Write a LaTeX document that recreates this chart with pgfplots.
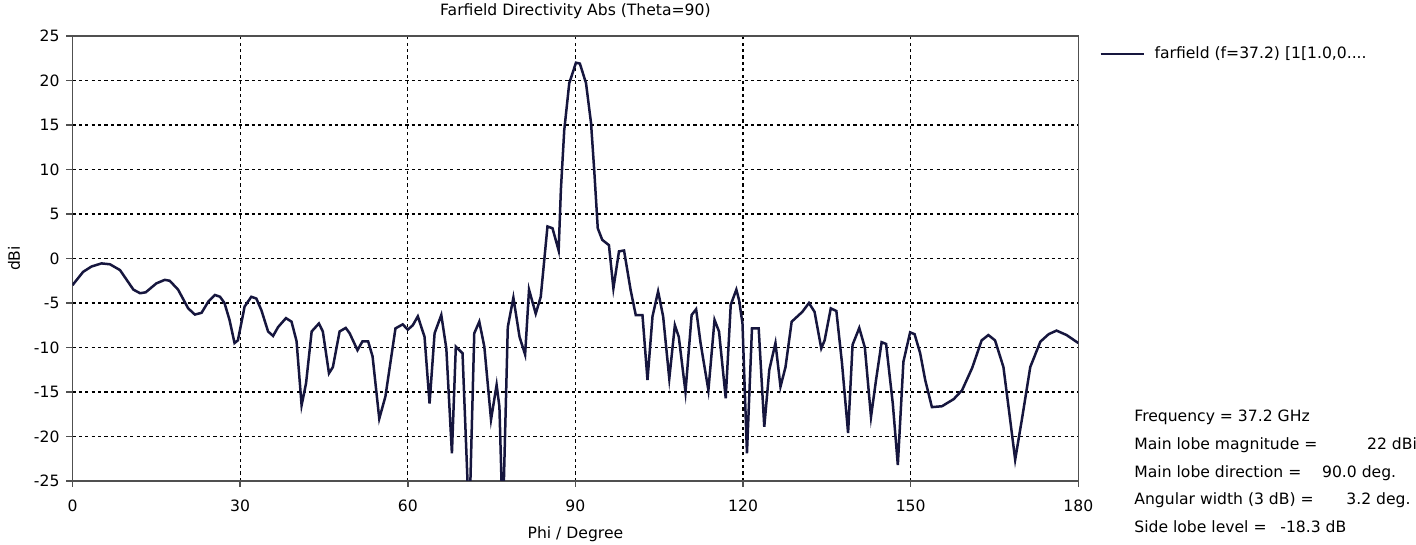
\documentclass[border=0pt]{standalone}
\usepackage{fontspec}
\setmainfont{DejaVu Sans}
\usepackage{pgfplots}
\pgfplotsset{compat=1.18}
\definecolor{curve}{HTML}{16163E}
\definecolor{axisgray}{HTML}{505050}
\begin{document}
\begin{tikzpicture}[font=\fontsize{7.8}{9}\selectfont]
\useasboundingbox (-36.25pt,-32pt) rectangle (671.75pt,240.5pt);
\begin{axis}[
  at={(0pt,0pt)}, anchor=south west,
  scale only axis, width=502.9pt, height=222.5pt,
  xmin=0, xmax=180, ymin=-25, ymax=25,
  xtick={0,30,...,180}, ytick={-25,-20,...,25},
  grid=major,
  major grid style={black, line width=0.6pt, dash pattern=on 1.6pt off 1.6pt},
  axis line style={axisgray, line width=0.8pt},
  tick style={axisgray, line width=0.8pt},
  tick align=outside, tick pos=left, major tick length=3pt,
  /pgf/number format/assume math mode=true,
  xticklabel style={yshift=-3pt},
  xlabel={Phi / Degree}, ylabel={dBi},
  title={Farfield Directivity Abs (Theta=90)},
  title style={at={(axis description cs:0.5,1.028)}, anchor=center, inner sep=0pt},
  x label style={at={(axis description cs:0.5,-0.119)}, anchor=center, inner sep=0pt},
  y label style={at={(axis description cs:-0.0582,0.5)}, anchor=center, inner sep=0pt},
  legend image code/.code={\draw[#1] (0pt,0pt) -- (21.85pt,0pt); \path (26.3pt,0pt);},
  legend style={at={(axis description cs:1.0206,0.9596)}, anchor=west, draw=none, fill=none,
    inner sep=0pt, nodes={inner sep=0pt}},
  legend cell align={left},
]
\addplot[curve, line width=1.25pt] coordinates {
(0,-3.0) (1.9,-1.5) (3.4,-0.9) (5.2,-0.55) (6.7,-0.65) (8.5,-1.3) (10.9,-3.5) (12.1,-3.9)
(13.1,-3.8) (15.0,-2.8) (16.5,-2.4) (17.4,-2.5) (18.9,-3.5) (20.7,-5.6) (21.9,-6.3) (23.1,-6.1)
(24.3,-4.85) (25.5,-4.1) (26.4,-4.3) (27.2,-5.0) (28.1,-6.9) (29.0,-9.5) (29.6,-9.2) (30.8,-5.4)
(32.0,-4.3) (32.9,-4.5) (33.8,-5.8) (35.0,-8.2) (35.9,-8.7) (36.8,-7.7) (38.2,-6.7) (39.2,-7.1)
(40.1,-9.3) (41.0,-16.5) (41.8,-14.0) (42.8,-8.2) (44.1,-7.3) (44.8,-8.2) (45.9,-12.9) (46.6,-12.2)
(47.8,-8.2) (48.9,-7.8) (49.6,-8.4) (51.0,-10.3) (51.9,-9.3) (52.9,-9.3) (53.7,-11.0) (54.9,-18.0)
(56.0,-15.5) (57.8,-7.85) (59.1,-7.4) (60.0,-8.0) (60.9,-7.5) (61.8,-6.5) (63.0,-8.8) (63.9,-16.3)
(64.8,-8.4) (66.0,-6.35) (66.9,-10.1) (67.9,-21.9) (68.6,-9.9) (69.8,-10.65) (71.0,-30) (71.9,-8.4)
(72.8,-7.1) (73.7,-9.9) (74.9,-18.1) (75.9,-14.2) (76.4,-16.65) (77.0,-30) (77.9,-7.7) (78.9,-4.4)
(80.0,-8.8) (81.0,-10.8) (81.7,-3.5) (82.9,-6.2) (83.8,-4.3) (85.0,3.6) (85.9,3.4) (87.0,0.9)
(87.4,7.7) (88.0,14.4) (88.9,19.7) (90.1,22.0) (90.8,21.9) (91.9,19.7) (92.8,15.2) (93.4,9.6)
(94.0,3.4) (94.8,2.1) (96.0,1.5) (96.8,-3.35) (97.8,0.8) (98.7,0.9) (99.9,-3.6) (100.8,-6.35)
(102.0,-6.35) (102.9,-13.65) (103.8,-6.5) (104.8,-3.7) (105.7,-6.5) (106.8,-13.5) (107.8,-7.5) (108.5,-8.8)
(109.7,-15.0) (110.8,-6.35) (111.6,-5.7) (112.4,-9.5) (113.8,-14.8) (114.9,-6.9) (115.7,-8.2) (116.9,-15.7)
(117.8,-5.2) (118.8,-3.5) (119.3,-4.7) (119.9,-7.3) (120.7,-21.9) (121.6,-7.85) (122.8,-7.85) (123.8,-18.9)
(124.7,-12.5) (125.8,-9.5) (126.7,-14.4) (127.6,-12.2) (128.7,-7.1) (130.6,-6.0) (131.8,-5.0) (132.8,-6.0)
(134.0,-10.1) (134.6,-9.2) (135.7,-5.6) (136.7,-5.9) (137.7,-11.7) (138.8,-19.6) (139.6,-9.7) (140.8,-7.8)
(141.8,-10.0) (142.9,-17.8) (143.8,-13.65) (144.8,-9.4) (145.6,-9.6) (146.8,-16.3) (147.7,-23.2) (148.7,-11.6)
(149.9,-8.3) (150.7,-8.5) (151.7,-10.65) (152.6,-13.65) (153.8,-16.7) (155.6,-16.6) (157.7,-15.8) (159.2,-14.8)
(161.0,-12.3) (162.7,-9.2) (163.9,-8.6) (165.1,-9.2) (166.6,-12.2) (167.8,-18.1) (168.7,-22.6) (169.9,-18.1)
(171.4,-12.2) (173.2,-9.35) (174.7,-8.5) (176.1,-8.1) (177.9,-8.6) (180,-9.5)
};
\addlegendentry{farfield (f=37.2) [1[1.0,0....}
\end{axis}
\begin{scope}[every node/.style={inner sep=0pt, anchor=base west}]
\node at (530.75pt,29.65pt) {Frequency = 37.2 GHz};
\node at (530.75pt,15.95pt) {Main lobe magnitude =};
\node at (647.1pt,15.95pt) {22 dBi};
\node at (530.75pt,1.75pt) {Main lobe direction =};
\node at (624.6pt,1.75pt) {90.0 deg.};
\node at (530.75pt,-11.55pt) {Angular width (3 dB) =};
\node at (636.75pt,-11.55pt) {3.2 deg.};
\node at (530.75pt,-25.75pt) {Side lobe level =};
\node at (603.75pt,-25.75pt) {-18.3 dB};
\end{scope}
\end{tikzpicture}
\end{document}
